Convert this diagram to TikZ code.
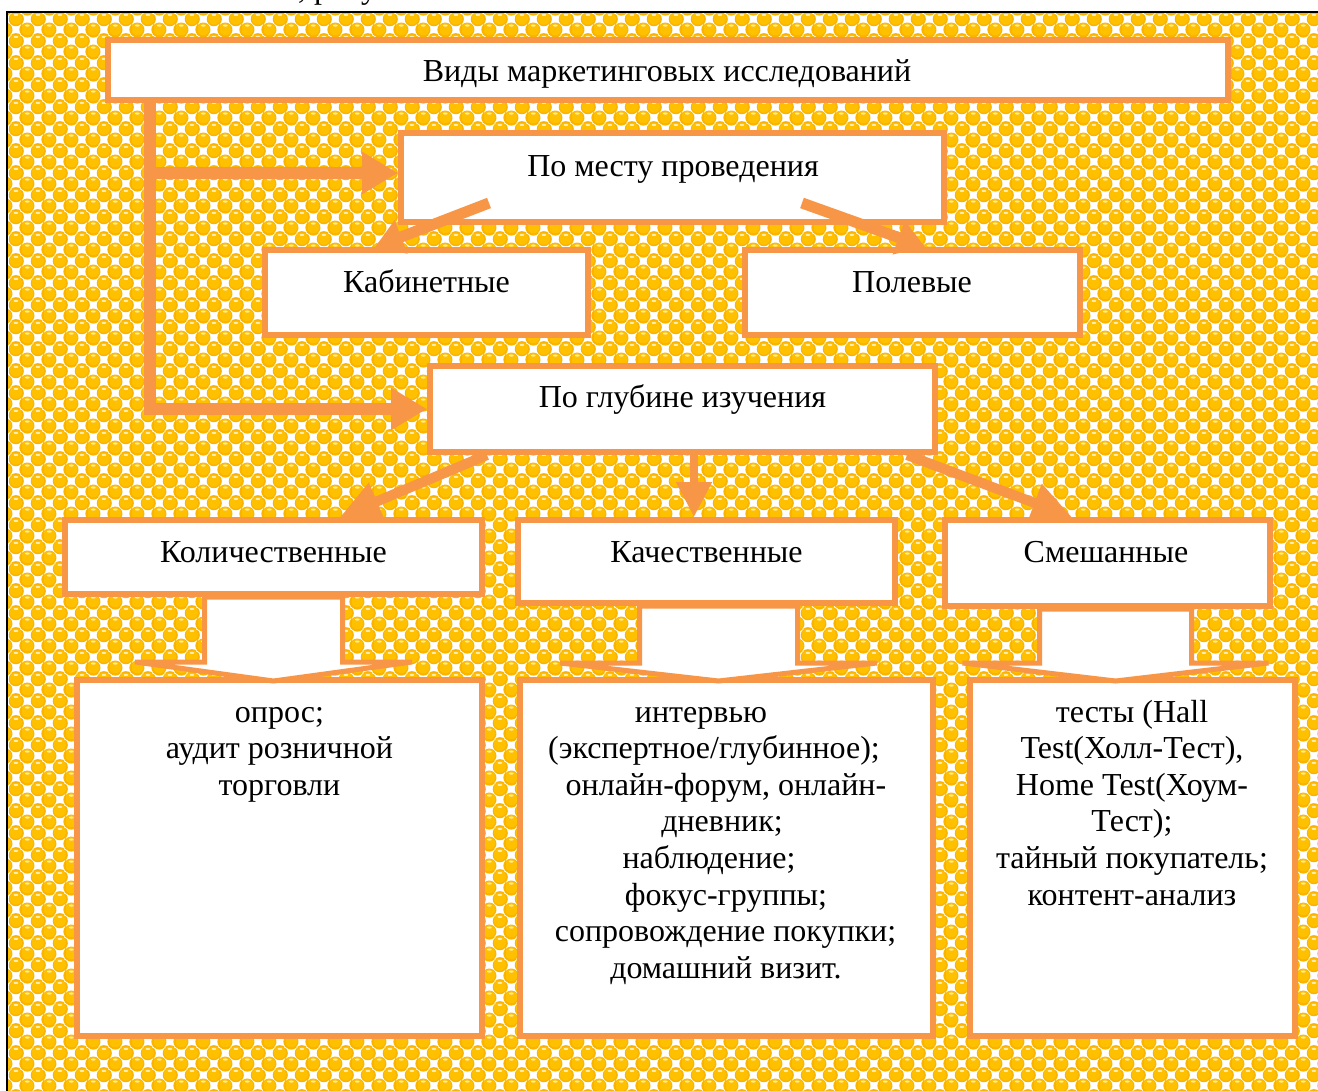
\documentclass[tikz,border=0pt]{standalone}
\usepackage{fontspec}
\setmainfont{Liberation Serif}
\usetikzlibrary{arrows.meta,calc,patterns.meta}
\definecolor{gold}{RGB}{255,192,0}
\definecolor{golddk}{RGB}{250,180,0}
\definecolor{orng}{RGB}{247,150,70}
\tikzdeclarepattern{
  name=goldballs,
  type=colored,
  tile size={(21.6pt,21.6pt)},
  bottom left={(0pt,0pt)},
  top right={(21.6pt,21.6pt)},
  code={
    \fill[white] (0pt,0pt) rectangle (21.6pt,21.6pt);
    \fill[golddk] (5.4pt,5.4pt) circle (7.3pt);
    \fill[golddk] (16.2pt,16.2pt) circle (7.3pt);
    \fill[golddk] (-5.4pt,16.2pt) circle (7.3pt);
    \fill[golddk] (27pt,5.4pt) circle (7.3pt);
    \fill[golddk] (16.2pt,-5.4pt) circle (7.3pt);
    \fill[golddk] (5.4pt,27pt) circle (7.3pt);
    \fill[gold] (5.4pt,5.9pt) circle (6.2pt);
    \fill[gold] (16.2pt,16.7pt) circle (6.2pt);
    \fill[white!70!gold] (5.4pt,9.6pt) ellipse (2.4pt and 1.1pt);
    \fill[white!70!gold] (16.2pt,20.4pt) ellipse (2.4pt and 1.1pt);
  }
}
\newcommand\blkarrow[6]{\draw[blk] ($(#1)+(#2-#3,0)$) -- ++(0,#5) -- ++(#3-#4,0) -- ++(#4,#6) -- ++(#4,-#6) -- ++(#3-#4,0) -- ++(0,-#5) -- cycle;}
\begin{document}
\begin{tikzpicture}[x=1pt,y=-1pt,
  box/.style={draw=orng, line width=6pt, fill=white, inner sep=0pt},
  txt/.style={font=\fontsize{32}{37}\selectfont, inner sep=0pt, anchor=base},
  conn/.style={draw=orng, line width=#1pt},
  blk/.style={draw=orng, fill=white, line width=5pt, line join=miter},
]
\useasboundingbox (0,0) rectangle (1318,1091);
\clip (0,0) rectangle (1318,1091);
\fill[pattern=goldballs] (8,13) rectangle (1318,1091);
\draw[line width=2pt] (7,1091) -- (7,12) -- (1318,12);
\node[txt, anchor=base west] (frag) at (298,-1) {, рисунок};

% boxes
\node[box, minimum width=1120pt, minimum height=60pt] (b1) at (668,70) {};
\node[box, minimum width=543pt, minimum height=89pt] (b2) at (672.5,177.5) {};
\node[box, minimum width=323pt, minimum height=85pt] (b3) at (426.5,292.5) {};
\node[box, minimum width=335pt, minimum height=85pt] (b4) at (912.5,292.5) {};
\node[box, minimum width=505pt, minimum height=86pt] (b5) at (682.5,409) {};
\node[box, minimum width=417pt, minimum height=74pt] (b6) at (273.5,557) {};
\node[box, minimum width=377pt, minimum height=83pt] (b7) at (706.5,561.5) {};
\node[box, minimum width=325pt, minimum height=86pt] (b8) at (1107.5,563) {};
\node[box, minimum width=405pt, minimum height=356pt] (b9) at (279.5,858) {};
\node[box, minimum width=413pt, minimum height=356pt] (b10) at (726.5,858) {};
\node[box, minimum width=325pt, minimum height=356pt] (b11) at (1132.5,858) {};

% trunk connectors
\coordinate (tx) at ([xshift=45pt]b1.south west);
\coordinate (b2in) at ([yshift=4.5pt]b2.west);
\draw[conn=12, -{Triangle[length=36pt,width=40pt]}] (tx) |- (b5.west);
\draw[conn=12, -{Triangle[length=36pt,width=40pt]}] (b2in -| tx) -- (b2in);

% from b2
\draw[conn=11, -{Triangle[length=28pt,width=34pt]}] ([xshift=91pt,yshift=22pt]b2.south west) -- ([xshift=113pt]b3.north west);
\draw[conn=11, -{Triangle[length=28pt,width=34pt]}] ([xshift=404pt,yshift=22pt]b2.south west) -- ([xshift=183pt]b4.north west);

% from b5
\draw[conn=10, -{Triangle[length=40pt,width=38pt]}] ([xshift=60pt]b5.south west) -- ([xshift=278pt]b6.north west);
\draw[conn=8, -{Triangle[length=35pt,width=34pt]}] ([xshift=267pt]b5.south west) -- ([xshift=179pt]b7.north west);
\draw[conn=10, -{Triangle[length=40pt,width=38pt]}] ([xshift=480pt]b5.south west) -- ([xshift=130pt]b8.north west);

% block arrows
\blkarrow{b6.south}{0}{69}{138.5}{65}{19}
\blkarrow{b7.south}{12}{79}{158.5}{57}{18}
\blkarrow{b8.south}{8}{76}{153}{54}{18}

% texts
\node[txt] (t1) at (667,81.5) {Виды маркетинговых исследований};
\node[txt] (t2) at (673,177) {По месту проведения};
\node[txt] (t3) at (426.5,293) {Кабинетные};
\node[txt] (t4) at (912,293) {Полевые};
\node[txt] (t5) at (682.5,407) {По глубине изучения};
\node[txt] (t6) at (273.5,562) {Количественные};
\node[txt] (t7) at (706.5,562) {Качественные};
\node[txt] (t8) at (1106,562) {Смешанные};

\node[txt] (a1) at (279.5,722) {опрос;};
\node[txt] (a2) at (279.5,758.6) {аудит розничной};
\node[txt] (a3) at (279.5,795.2) {торговли};

\node[txt] (q1) at (701,722) {интервью};
\node[txt] (q2) at (714,758.6) {(экспертное/глубинное);};
\node[txt] (q3) at (726,795.2) {онлайн-форум, онлайн-};
\node[txt] (q4) at (722,831.8) {дневник;};
\node[txt] (q5) at (709,868.4) {наблюдение;};
\node[txt] (q6) at (726,905) {фокус-группы;};
\node[txt] (q7) at (725.5,941.6) {сопровождение покупки;};
\node[txt] (q8) at (726,978.2) {домашний визит.};

\node[txt] (m1) at (1132,722) {тесты (Hall};
\node[txt] (m2) at (1132,758.6) {Test(Холл-Тест),};
\node[txt] (m3) at (1132,795.2) {Home Test(Хоум-};
\node[txt] (m4) at (1132,831.8) {Тест);};
\node[txt] (m5) at (1132,868.4) {тайный покупатель;};
\node[txt] (m6) at (1132,905) {контент-анализ};
\end{tikzpicture}
\end{document}
